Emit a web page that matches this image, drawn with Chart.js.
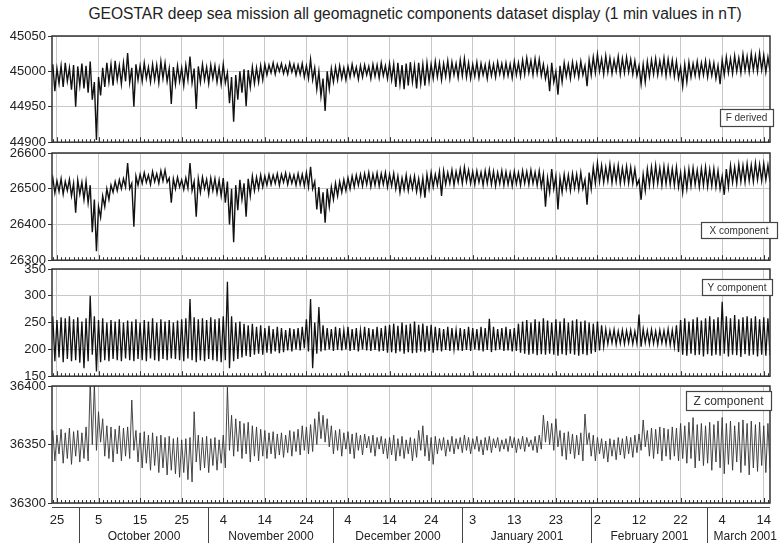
<!DOCTYPE html>
<html>
<head>
<meta charset="utf-8">
<title>GEOSTAR geomagnetic components</title>
<script src="https://cdn.jsdelivr.net/npm/chart.js@4.4.1/dist/chart.umd.min.js"></script>
<style>
  html, body { margin: 0; padding: 0; background: #fff; }
  #wrap { position: relative; width: 781px; height: 543px; overflow: hidden; background: #fff; }
  #wrap canvas { position: absolute; left: 0; }
  #title {
    position: absolute; top: 5px; left: 0; width: 830px; text-align: center;
    font: 15.6px "Liberation Sans", Arial, sans-serif; color: #222; white-space: nowrap;
  }
</style>
</head>
<body>
<div id="wrap">
  <div id="title">GEOSTAR deep sea mission all geomagnetic components dataset display (1 min values in nT)</div>
  <canvas id="cF" width="781" height="152" style="top:0px"></canvas>
  <canvas id="cX" width="781" height="130" style="top:140px"></canvas>
  <canvas id="cY" width="781" height="130" style="top:256px"></canvas>
  <canvas id="cZ" width="781" height="170" style="top:373px"></canvas>
</div>
<script>
// Day 0 = 25 September 2000. Each day has a daily high and a daily low (nT).
const firstDay = -2;
const tickDays = [0, 10, 20, 30, 40, 50, 60, 70, 80, 90, 100, 110, 120, 130, 140, 150, 160, 170];
const monthNames = ['October 2000', 'November 2000', 'December 2000', 'January 2001', 'February 2001', 'March 2001'];
const monthStartDays = [6, 37, 67, 98, 129, 157];

// F derived
const fHigh = [
  45006, 45010, 45004, 45008, 45012, 45005, 45009, 45007, 45011, 45008,
  45014, 44985, 44992, 45005, 45012, 45010, 45015, 45008, 45012, 45026,
  45005, 45010, 45008, 45012, 45006, 45010, 45009, 45014, 45012, 45004,
  45006, 45008, 45005, 45009, 45021, 45004, 45007, 45010, 45006, 45009,
  45008, 45005, 45010, 44998, 44992, 44995, 45000, 45003, 45002, 45006,
  45005, 45008, 45010, 45009, 45012, 45010, 45011, 45008, 45012, 45010,
  45009, 45011, 45008, 45017, 45005, 45000, 44990, 45000, 45004, 45006,
  45008, 45005, 45007, 45010, 45006, 45008, 45009, 45007, 45010, 45009,
  45012, 45008, 45011, 45010, 45012, 45009, 45011, 45013, 45008, 45012,
  45010, 45012, 45010, 45014, 45012, 45011, 45015, 45013, 45011, 45016,
  45018, 45012, 45010, 45013, 45011, 45009, 45012, 45010, 45013, 45011,
  45012, 45010, 45014, 45012, 45016, 45019, 45015, 45018, 45017, 45010,
  45005, 45012, 45000, 45008, 45012, 45010, 45013, 45011, 45014, 45008,
  45016, 45020, 45024, 45018, 45022, 45019, 45016, 45021, 45018, 45020,
  45017, 45015, 45008, 45010, 45014, 45016, 45018, 45015, 45019, 45017,
  45016, 45014, 45006, 45010, 45013, 45011, 45014, 45012, 45015, 45013,
  45012, 45008, 45016, 45020, 45018, 45022, 45019, 45024, 45021, 45025,
  45022, 45026, 45023, 45020
];
const fLow = [
  44985, 44972, 44983, 44978, 44986, 44974, 44950, 44980, 44976, 44970,
  44960, 44903, 44966, 44978, 44985, 44980, 44988, 44982, 44986, 44984,
  44950, 44988, 44986, 44990, 44985, 44988, 44984, 44990, 44986, 44954,
  44982, 44986, 44980, 44988, 44984, 44947, 44985, 44988, 44983, 44990,
  44985, 44982, 44984, 44955, 44929, 44960, 44970, 44951, 44978, 44983,
  44985, 44988, 44995, 44998, 44996, 45000, 44997, 44996, 44999, 44995,
  44996, 44992, 44990, 44988, 44975, 44965, 44944, 44975, 44985, 44988,
  44990, 44988, 44992, 44994, 44989, 44992, 44995, 44990, 44993, 44991,
  44994, 44990, 44988, 44978, 44982, 44975, 44980, 44985, 44976, 44983,
  44980, 44986, 44990, 44992, 44988, 44993, 44990, 44995, 44991, 44994,
  44992, 44990, 44993, 44991, 44995, 44990, 44994, 44992, 44996, 44993,
  44994, 44991, 44995, 44993, 44996, 44998, 44995, 44997, 44994, 44990,
  44972, 44985, 44967, 44985, 44993, 44990, 44994, 44992, 44995, 44979,
  44995, 44998, 45000, 44996, 44999, 44997, 45000, 44996, 44998, 44999,
  44996, 44994, 44982, 44985, 44993, 44996, 44995, 44997, 44994, 44996,
  44993, 44990, 44979, 44985, 44992, 44994, 44993, 44995, 44992, 44994,
  44990, 44982, 44995, 44998, 44997, 45000, 44998, 45001, 44999, 45002,
  45000, 45002, 44999, 45001
];

// X component
const xHigh = [
  26525, 26530, 26522, 26528, 26520, 26526, 26515, 26524, 26518, 26520,
  26510, 26470, 26450, 26480, 26500, 26510, 26520, 26525, 26528, 26572,
  26515, 26535, 26540, 26545, 26538, 26548, 26542, 26550, 26552, 26530,
  26528, 26532, 26525, 26530, 26572, 26520, 26528, 26532, 26526, 26530,
  26528, 26524, 26530, 26520, 26500, 26510, 26525, 26515, 26528, 26535,
  26532, 26538, 26535, 26540, 26538, 26542, 26540, 26544, 26540, 26538,
  26542, 26540, 26545, 26561, 26520, 26505, 26490, 26500, 26505, 26515,
  26520, 26525, 26530, 26535, 26538, 26540, 26542, 26545, 26540, 26544,
  26542, 26545, 26540, 26543, 26535, 26530, 26538, 26532, 26535, 26528,
  26530, 26540, 26545, 26540, 26548, 26550, 26545, 26552, 26548, 26555,
  26560, 26552, 26548, 26550, 26546, 26550, 26553, 26548, 26545, 26550,
  26547, 26544, 26548, 26545, 26550, 26548, 26552, 26546, 26550, 26540,
  26530, 26555, 26535, 26530, 26540, 26538, 26542, 26540, 26545, 26525,
  26545, 26560, 26572, 26565, 26560, 26568, 26562, 26565, 26558, 26562,
  26560, 26555, 26525, 26540, 26555, 26560, 26565, 26558, 26562, 26560,
  26556, 26560, 26545, 26550, 26555, 26558, 26552, 26556, 26560, 26554,
  26556, 26550, 26535, 26555, 26565, 26560, 26568, 26565, 26570, 26566,
  26572, 26568, 26570, 26565
];
const xLow = [
  26495, 26488, 26492, 26485, 26495, 26480, 26433, 26485, 26470, 26461,
  26378, 26325, 26420, 26450, 26470, 26490, 26495, 26500, 26505, 26500,
  26394, 26510, 26515, 26518, 26512, 26520, 26515, 26522, 26518, 26461,
  26500, 26505, 26498, 26502, 26495, 26422, 26490, 26500, 26485, 26495,
  26488, 26480, 26461, 26400, 26350, 26440, 26470, 26422, 26480, 26495,
  26500, 26505, 26510, 26512, 26515, 26510, 26518, 26512, 26515, 26510,
  26512, 26508, 26505, 26500, 26442, 26430, 26405, 26450, 26470, 26480,
  26490, 26495, 26500, 26505, 26510, 26508, 26512, 26506, 26510, 26508,
  26512, 26505, 26508, 26500, 26490, 26498, 26495, 26500, 26492, 26485,
  26475, 26500, 26505, 26510, 26480, 26512, 26515, 26510, 26518, 26515,
  26520, 26515, 26512, 26518, 26510, 26515, 26512, 26508, 26514, 26510,
  26512, 26508, 26514, 26510, 26515, 26512, 26515, 26510, 26505, 26450,
  26490, 26500, 26442, 26490, 26500, 26495, 26502, 26498, 26500, 26455,
  26500, 26515, 26520, 26518, 26522, 26517, 26520, 26515, 26518, 26516,
  26515, 26510, 26469, 26495, 26510, 26512, 26515, 26510, 26514, 26512,
  26510, 26505, 26490, 26500, 26508, 26512, 26505, 26510, 26506, 26508,
  26505, 26500, 26483, 26505, 26518, 26515, 26520, 26518, 26522, 26520,
  26525, 26522, 26525, 26520
];

// Y component
const yHigh = [
  258, 262, 255, 260, 258, 262, 256, 260, 252, 258,
  300, 262, 255, 258, 250, 255, 252, 256, 250, 254,
  252, 256, 250, 255, 252, 258, 250, 256, 252, 255,
  250, 254, 256, 258, 294, 260, 256, 258, 255, 260,
  256, 258, 262, 326, 262, 250, 252, 248, 245, 248,
  242, 245, 240, 244, 238, 242, 240, 236, 240, 238,
  240, 242, 256, 294, 250, 279, 245, 240, 238, 242,
  240, 236, 242, 238, 240, 236, 242, 240, 238, 242,
  240, 244, 246, 248, 244, 250, 246, 248, 252, 246,
  248, 244, 246, 242, 240, 238, 242, 240, 236, 240,
  238, 242, 240, 238, 242, 240, 257, 242, 238, 240,
  242, 238, 240, 248, 252, 255, 250, 256, 252, 258,
  254, 250, 256, 252, 258, 250, 254, 256, 252, 254,
  250, 248, 252, 245, 238, 235, 237, 234, 236, 235,
  236, 234, 265, 238, 235, 237, 234, 236, 235, 238,
  236, 245, 255, 258, 252, 256, 260, 254, 258, 262,
  256, 260, 289, 262, 258, 264, 256, 260, 262, 258,
  262, 256, 260, 258
];
const yLow = [
  180, 178, 185, 176, 182, 178, 180, 175, 165, 178,
  190, 159, 176, 180, 178, 182, 180, 178, 183, 180,
  178, 182, 180, 178, 183, 180, 178, 182, 180, 183,
  182, 180, 178, 183, 180, 176, 180, 178, 182, 180,
  178, 176, 180, 165, 178, 182, 185, 188, 186, 190,
  192, 190, 194, 192, 196, 193, 195, 198, 196, 200,
  198, 202, 196, 165, 192, 196, 198, 200, 197, 199,
  198, 200, 197, 199, 196, 200, 198, 197, 199, 196,
  197, 194, 195, 193, 196, 192, 195, 193, 194, 196,
  195, 197, 194, 198, 196, 199, 197, 200, 198, 197,
  199, 197, 200, 198, 196, 199, 195, 198, 200, 197,
  198, 196, 197, 194, 192, 190, 192, 189, 191, 190,
  192, 190, 188, 191, 189, 192, 190, 188, 191, 189,
  192, 195, 198, 205, 210, 212, 209, 211, 210, 212,
  210, 211, 205, 212, 210, 211, 209, 212, 210, 208,
  205, 195, 190, 188, 192, 189, 190, 187, 191, 188,
  190, 188, 192, 187, 190, 189, 186, 191, 188, 190,
  187, 190, 188, 189
];

// Z component
const zHigh = [
  36360, 36362, 36358, 36363, 36360, 36364, 36361, 36362, 36360, 36365,
  36405, 36402, 36378, 36372, 36366, 36365, 36363, 36366, 36364, 36365,
  36388, 36362, 36360, 36361, 36358, 36360, 36357, 36358, 36356, 36357,
  36355, 36356, 36354, 36355, 36356, 36378, 36358, 36356, 36357, 36355,
  36356, 36354, 36358, 36399, 36375, 36372, 36370, 36368, 36369, 36366,
  36365, 36363, 36362, 36360, 36361, 36359, 36360, 36358, 36362, 36361,
  36363, 36366, 36365, 36367, 36372, 36378, 36375, 36372, 36366, 36362,
  36363, 36360, 36361, 36359, 36360, 36358, 36359, 36357, 36358, 36356,
  36357, 36355, 36356, 36358, 36355, 36357, 36354, 36356, 36355, 36362,
  36366, 36358, 36356, 36357, 36355, 36356, 36354, 36357, 36355, 36356,
  36358, 36356, 36355, 36357, 36354, 36356, 36357, 36355, 36356, 36354,
  36355, 36357, 36356, 36355, 36357, 36356, 36354, 36357, 36358, 36375,
  36370, 36368, 36372, 36362, 36360, 36361, 36359, 36358, 36360, 36376,
  36360, 36358, 36356, 36355, 36353, 36355, 36354, 36356, 36355, 36357,
  36356, 36358, 36359, 36371, 36362, 36364, 36363, 36365, 36364, 36363,
  36365, 36364, 36368, 36366, 36369, 36373, 36367, 36368, 36366, 36369,
  36367, 36370, 36373, 36368, 36370, 36366, 36369, 36371, 36368, 36370,
  36367, 36369, 36366, 36368
];
const zLow = [
  36340, 36336, 36342, 36334, 36338, 36333, 36340, 36335, 36338, 36336,
  36350, 36345, 36352, 36340, 36338, 36335, 36342, 36336, 36340, 36338,
  36345, 36335, 36330, 36334, 36328, 36332, 36326, 36330, 36324, 36328,
  36325, 36322, 36326, 36320, 36318, 36335, 36328, 36330, 36326, 36332,
  36328, 36334, 36330, 36345, 36340, 36344, 36338, 36342, 36335, 36340,
  36336, 36340, 36338, 36342, 36338, 36341, 36339, 36343, 36340, 36344,
  36341, 36345, 36342, 36344, 36350, 36355, 36352, 36348, 36342, 36345,
  36340, 36346, 36342, 36338, 36345, 36341, 36347, 36343, 36340, 36346,
  36342, 36338, 36341, 36336, 36340, 36338, 36342, 36336, 36339, 36345,
  36340, 36336, 36333, 36342, 36345, 36340, 36344, 36342, 36346, 36343,
  36345, 36342, 36346, 36344, 36341, 36345, 36343, 36347, 36344, 36346,
  36344, 36347, 36343, 36346, 36344, 36348, 36345, 36343, 36346, 36352,
  36350, 36345, 36348, 36340, 36337, 36342, 36338, 36341, 36336, 36350,
  36340, 36336, 36342, 36338, 36335, 36340, 36337, 36341, 36338, 36342,
  36339, 36343, 36345, 36348, 36340, 36338, 36342, 36336, 36340, 36337,
  36340, 36336, 36338, 36334, 36338, 36330, 36336, 36332, 36334, 36328,
  36335, 36330, 36325, 36333, 36328, 36335, 36326, 36332, 36324, 36330,
  36327, 36332, 36326, 36330
];

const FONT = '"Liberation Sans", Arial, sans-serif';
const xMin = -1.19, xMax = 171.5;

// daily high then daily low, half a day apart
function toPoints(high, low) {
  const pts = [];
  high.forEach((h, i) => {
    pts.push({ x: firstDay + i, y: h });
    pts.push({ x: firstDay + i + 0.5, y: low[i] });
  });
  return pts;
}

// frame, daily minor ticks and the little name box of each panel
const panelFrame = {
  id: 'panelFrame',
  afterDraw(chart, args, opts) {
    const { ctx, chartArea: a, scales: { x } } = chart;
    ctx.save();
    ctx.strokeStyle = '#333';
    ctx.lineWidth = 1;
    ctx.beginPath();
    for (let d = Math.ceil(x.min); d <= x.max; d++) {
      const px = Math.round(x.getPixelForValue(d)) + 0.5;
      const len = d % 10 === 0 ? 5 : 3;
      ctx.moveTo(px, a.bottom);
      ctx.lineTo(px, a.bottom - len);
    }
    ctx.stroke();

    ctx.lineWidth = 1.5;
    ctx.strokeRect(a.left, a.top, a.right - a.left, a.bottom - a.top);

    // name box
    const b = opts.box;
    ctx.fillStyle = '#fff';
    ctx.fillRect(b.x, a.top + b.y, b.w, b.h);
    ctx.lineWidth = 1.2;
    ctx.strokeStyle = '#444';
    ctx.strokeRect(b.x + 0.5, a.top + b.y + 0.5, b.w, b.h);
    ctx.fillStyle = '#333';
    ctx.font = b.size + 'px ' + FONT;
    ctx.textAlign = 'center';
    ctx.textBaseline = 'middle';
    ctx.fillText(opts.name, b.x + b.w / 2, a.top + b.y + b.h / 2 + 1);
    ctx.restore();
  }
};

// month row under the bottom panel
const monthRow = {
  id: 'monthRow',
  afterDraw(chart) {
    const { ctx, chartArea: a, scales: { x } } = chart;
    const H = chart.height;
    ctx.save();
    ctx.strokeStyle = '#444';
    ctx.lineWidth = 1;
    ctx.beginPath();
    ctx.moveTo(a.left, a.bottom + 4.5);
    ctx.lineTo(a.right, a.bottom + 4.5);
    const seps = monthStartDays.map(d => Math.round(x.getPixelForValue(d - 0.6)) + 0.5);
    seps.forEach(px => { ctx.moveTo(px, a.bottom + 4); ctx.lineTo(px, H); });
    ctx.stroke();
    ctx.fillStyle = '#222';
    ctx.font = '12px ' + FONT;
    ctx.textAlign = 'center';
    ctx.textBaseline = 'middle';
    monthNames.forEach((m, i) => {
      const end = i + 1 < seps.length ? seps[i + 1] : chart.width + 2;
      ctx.fillText(m, (seps[i] + end) / 2, a.bottom + 34);
    });
    ctx.restore();
  }
};

function makePanel(id, cfg) {
  return new Chart(document.getElementById(id), {
    type: 'line',
    data: {
      datasets: [{
        data: toPoints(cfg.high, cfg.low),
        borderColor: cfg.color,
        borderWidth: cfg.width,
        pointRadius: 0,
        tension: 0
      }]
    },
    options: {
      responsive: false,
      animation: false,
      devicePixelRatio: 1,
      parsing: false,
      layout: { padding: { left: 0, right: 2, top: cfg.padTop, bottom: cfg.padBottom } },
      plugins: {
        legend: { display: false },
        tooltip: { enabled: false },
        panelFrame: { name: cfg.name, box: cfg.box }
      },
      scales: {
        x: {
          type: 'linear',
          min: xMin,
          max: xMax,
          afterBuildTicks: s => { s.ticks = tickDays.map(v => ({ value: v })); },
          afterFit: s => { s.height = cfg.dates ? 40 : 0; },
          grid: { color: '#c8c8c8', drawTicks: false },
          border: { display: false },
          ticks: {
            display: cfg.dates,
            autoSkip: false,
            maxRotation: 0,
            padding: 10,
            color: '#222',
            font: { family: FONT, size: 13 },
            callback: v => new Date(2000, 8, 25 + v).getDate()
          }
        },
        y: {
          min: cfg.min,
          max: cfg.max,
          afterFit: s => { s.width = 52; },
          grid: { color: '#c8c8c8', tickLength: 4, tickColor: '#333' },
          border: { display: false },
          ticks: {
            stepSize: 50,
            padding: 2,
            color: '#222',
            font: { family: FONT, size: 13 },
            callback: v => String(v)
          }
        }
      }
    },
    plugins: cfg.dates ? [panelFrame, monthRow] : [panelFrame]
  });
}

makePanel('cF', { high: fHigh, low: fLow, min: 44900, max: 45050, padTop: 36, padBottom: 9,
  color: '#111', width: 1.4, name: 'F derived', box: { x: 720, y: 73, w: 53, h: 17, size: 10 } });
makePanel('cX', { high: xHigh, low: xLow, min: 26300, max: 26600, padTop: 13, padBottom: 9,
  color: '#111', width: 1.4, name: 'X component', box: { x: 701, y: 69, w: 76, h: 16, size: 10 } });
makePanel('cY', { high: yHigh, low: yLow, min: 150, max: 350, padTop: 13, padBottom: 8,
  color: '#111', width: 1.3, name: 'Y component', box: { x: 702, y: 10, w: 70, h: 16, size: 10 } });
makePanel('cZ', { high: zHigh, low: zLow, min: 36300, max: 36400, padTop: 13, padBottom: 0,
  color: '#333', width: 0.9, name: 'Z component', box: { x: 686, y: 5, w: 85, h: 19, size: 12 }, dates: true });
</script>
</body>
</html>
